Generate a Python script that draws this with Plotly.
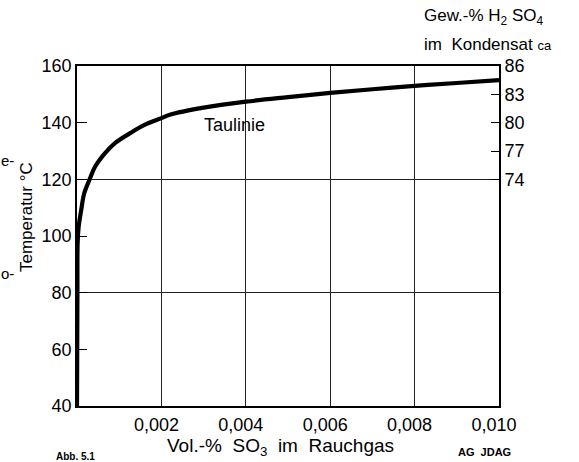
import plotly.graph_objects as go

# Dew point curve (Taulinie): SO3 vol-% in flue gas vs temperature °C
so3_vol = [0.0, 0.000005, 0.00001, 0.000015, 0.00004, 0.0001, 0.00017, 0.0003, 0.00043,
           0.00066, 0.0009, 0.00126, 0.0016, 0.002, 0.0022, 0.003, 0.004, 0.005, 0.006,
           0.007, 0.008, 0.009, 0.010]
temp_c = [40, 60, 80, 97.5, 103.4, 109.2, 115, 120, 124.5,
          129.2, 132.8, 136.3, 139.2, 141.6, 142.8, 145.3, 147.4, 149, 150.5,
          151.8, 153, 154, 155]

x_ticks = [0.002, 0.004, 0.006, 0.008, 0.010]
x_ticktext = ["0,002", "0,004", "0,006", "0,008", "0,010"]
y_ticks = [40, 60, 80, 100, 120, 140, 160]
y_grid = [80, 120]
h2so4_pos = [120, 130, 140, 150, 160]
h2so4_text = ["74", "77", "80", "83", "86"]

FONT = "Liberation Sans"
W, H = 579, 462
L, R, T, B = 77, 80, 66, 56
pw, ph = W - L - R, H - T - B


def px(x):
    return (x - L) / pw


def py(y):
    return (H - B - y) / ph


fig = go.Figure()
fig.add_trace(go.Scatter(x=so3_vol, y=temp_c, mode="lines",
                         line=dict(color="black", width=4.2, shape="spline", smoothing=1.0),
                         showlegend=False, hoverinfo="skip"))
fig.add_trace(go.Scatter(x=[0, 0.01], y=[40, 160], yaxis="y2", mode="lines",
                         line=dict(width=0), showlegend=False, hoverinfo="skip"))
fig.add_trace(go.Scatter(x=[0, 0.01], y=[40, 160], yaxis="y3", mode="lines",
                         line=dict(width=0), showlegend=False, hoverinfo="skip"))

fig.update_layout(
    width=W, height=H,
    margin=dict(l=L, r=R, t=T, b=B, autoexpand=False),
    paper_bgcolor="white", plot_bgcolor="white",
    font=dict(family=FONT, color="black", size=18),
    xaxis=dict(range=[0, 0.010], tickvals=x_ticks, ticktext=x_ticktext,
               showgrid=True, gridcolor="#222", gridwidth=1.2,
               showline=True, linecolor="black", linewidth=1.6, mirror=True,
               ticks="", zeroline=False, tickfont=dict(size=18), automargin=False,
               ticklabelshift=-5, ticklabelstandoff=2),
    yaxis=dict(range=[40, 160], tickvals=y_ticks, showgrid=False,
               ticks="inside", ticklen=10, tickwidth=1.3, tickcolor="black",
               showline=True, linecolor="black", linewidth=1.6,
               zeroline=False, tickfont=dict(size=18), automargin=False),
    yaxis2=dict(range=[40, 160], overlaying="y", side="right",
                tickvals=h2so4_pos, ticktext=h2so4_text,
                ticks="inside", ticklen=8, tickwidth=1.3, tickcolor="black",
                showgrid=False, showline=True, linecolor="black", linewidth=1.6,
                zeroline=False, tickfont=dict(size=18), automargin=False),
    yaxis3=dict(range=[40, 160], overlaying="y", tickvals=y_grid,
                showticklabels=False, ticks="", showgrid=True,
                gridcolor="#222", gridwidth=1.2, showline=False, zeroline=False,
                automargin=False),
)

ann = [
    dict(text="Taulinie", x=px(234), y=py(125), size=18),
    dict(text="Temperatur °C", x=px(26), y=py(217), size=17, textangle=-90),
    dict(text="Vol.-%  SO<sub>3</sub>  im  Rauchgas", x=px(280), y=py(447), size=19),
    dict(text="Gew.-% H<sub>2</sub> SO<sub>4</sub>", x=px(422), y=py(17), size=17, xanchor="left"),
    dict(text="im  Kondensat <span style='font-size:13px'>ca</span>", x=px(422), y=py(44),
         size=17, xanchor="left"),
    dict(text="<b>Abb. 5.1</b>", x=px(54), y=py(457), size=10, xanchor="left"),
    dict(text="<b>AG  JDAG</b>", x=px(456), y=py(452), size=11, xanchor="left"),
    dict(text="e-", x=px(-1), y=py(160), size=15, xanchor="left"),
    dict(text="o-", x=px(-1), y=py(273), size=15, xanchor="left"),
]

annotations = []
for a in ann:
    annotations.append(dict(
        text=a["text"], x=a["x"], y=a["y"], xref="paper", yref="paper",
        xanchor=a.get("xanchor", "center"), yanchor="middle",
        textangle=a.get("textangle", 0), showarrow=False,
        font=dict(size=a["size"], family=FONT, color="black")))

fig.update_layout(annotations=annotations)
fig.write_html("out.html", config={"displayModeBar": False},
               post_script="document.body.style.margin='0px';document.body.style.overflow='hidden';")
